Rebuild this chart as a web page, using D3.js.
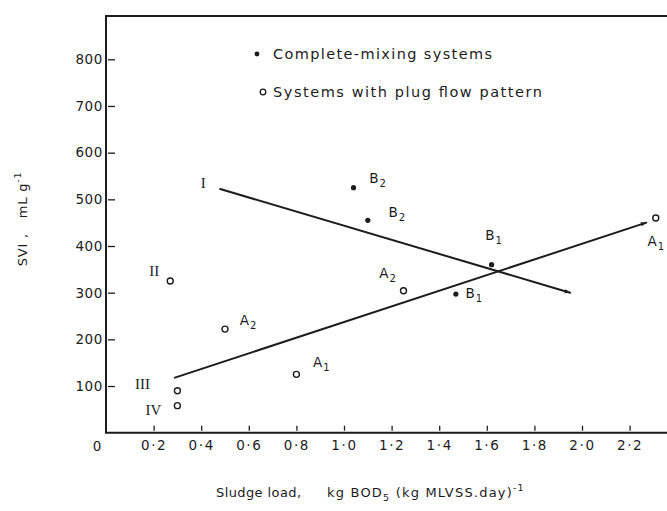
<!DOCTYPE html>
<html>
<head>
<meta charset="utf-8">
<script src="https://cdn.jsdelivr.net/npm/d3@7"></script>
<style>
  body { margin: 0; background: #fff; }
  svg { display: block; font-family: "DejaVu Sans", sans-serif; }
  .pre { white-space: pre; }
</style>
</head>
<body>
<svg id="chart" width="667" height="511"></svg>
<script>
// Axis ticks
const xTicks = [0.2, 0.4, 0.6, 0.8, 1.0, 1.2, 1.4, 1.6, 1.8, 2.0, 2.2];
const xTickLabels = ["0·2", "0·4", "0·6", "0·8", "1·0", "1·2", "1·4", "1·6", "1·8", "2·0", "2·2"];
const yTicks = [100, 200, 300, 400, 500, 600, 700, 800];
const yTickLabels = ["100", "200", "300", "400", "500", "600", "700", "800"];

// Complete-mixing systems (filled dots)
const mixLoad = [1.04, 1.10, 1.62, 1.47];
const mixSVI = [525, 455, 360, 297];
const mixNames = ["B", "B", "B", "B"];
const mixSubs = ["2", "2", "1", "1"];

// Systems with plug flow pattern (open circles)
const plugLoad = [0.27, 0.50, 0.80, 1.25, 0.30, 0.30, 2.31];
const plugSVI = [325, 222, 125, 304, 90, 58, 460];
const plugNames = ["II", "A", "A", "A", "III", "IV", "A"];
const plugSubs = ["", "2", "1", "2", "", "", "1"];

// Trend lines I and III
const trendILoad = [0.48, 1.95];
const trendISVI = [522, 300];
const trendIIILoad = [0.29, 2.27];
const trendIIISVI = [118, 450];

// Label placement (pixel offsets of each label's centre/baseline from its mark)
const mixOffsets = [[24, -5], [29, -3], [2, -25], [18, 4]];
const plugOffsets = [[-16, -5], [23, -4], [25, -7], [-16, -13], [-35, -2], [-24, 9], [0, 28]];

const ink = "#1c1c1c";
const svg = d3.select("#chart");

const x = d3.scaleLinear().domain([0, 2.2]).range([106, 629.6]);
const y = d3.scaleLinear().domain([0, 800]).range([432.7, 59.3]);

// Frame (runs off the right edge)
svg.append("path")
  .attr("d", `M700,16 H${x(0)} V${y(0)} H700`)
  .attr("fill", "none").attr("stroke", ink).attr("stroke-width", 2);

// Bottom axis: short inward ticks
const xAxis = svg.append("g")
  .attr("transform", `translate(0,${y(0)})`)
  .call(d3.axisBottom(x).tickValues(xTicks)
    .tickFormat((d, i) => xTickLabels[i])
    .tickSizeInner(-6).tickSizeOuter(0).tickPadding(8));
xAxis.select(".domain").remove();
xAxis.selectAll(".tick line").attr("y1", -2).attr("y2", -7)
  .attr("stroke", ink).attr("stroke-width", 1.3);
xAxis.selectAll(".tick text")
  .attr("font-family", "DejaVu Sans").attr("font-size", 13.5)
  .attr("letter-spacing", 1.6).attr("fill", ink);

// Left axis: short inward ticks
const yAxis = svg.append("g")
  .attr("transform", `translate(${x(0)},0)`)
  .call(d3.axisLeft(y).tickValues(yTicks)
    .tickFormat((d, i) => yTickLabels[i])
    .tickSizeInner(-9).tickSizeOuter(0).tickPadding(3));
yAxis.select(".domain").remove();
yAxis.selectAll(".tick line").attr("x1", 2).attr("x2", 9)
  .attr("stroke", ink).attr("stroke-width", 1.3);
yAxis.selectAll(".tick text")
  .attr("font-family", "DejaVu Sans").attr("font-size", 13.5)
  .attr("letter-spacing", 0.6).attr("fill", ink);

// Origin label
svg.append("text")
  .attr("x", x(0) - 9).attr("y", y(0) + 18)
  .attr("text-anchor", "middle").attr("font-size", 13.5).attr("fill", ink)
  .text("0");

// Arrowhead
svg.append("defs").append("marker")
  .attr("id", "arrow").attr("viewBox", "0 0 10 10")
  .attr("refX", 9).attr("refY", 5)
  .attr("markerWidth", 7).attr("markerHeight", 6)
  .attr("markerUnits", "userSpaceOnUse")
  .attr("orient", "auto")
  .append("path").attr("d", "M0,1.5 L10,5 L0,8.5 Z").attr("fill", ink);

const line = d3.line().x(d => x(d[0])).y(d => y(d[1]));
[[trendILoad, trendISVI], [trendIIILoad, trendIIISVI]].forEach(([lx, ly]) => {
  svg.append("path")
    .datum(lx.map((v, i) => [v, ly[i]]))
    .attr("d", line)
    .attr("fill", "none").attr("stroke", ink).attr("stroke-width", 2)
    .attr("stroke-linecap", "round")
    .attr("marker-end", "url(#arrow)");
});

// Trend line name
svg.append("text")
  .attr("x", x(trendILoad[0]) - 17).attr("y", y(trendISVI[0]) - 1)
  .attr("text-anchor", "middle")
  .attr("font-family", "Liberation Serif").attr("font-size", 15).attr("fill", ink)
  .text("I");

// Complete-mixing points
svg.append("g").selectAll("circle")
  .data(mixLoad).join("circle")
  .attr("cx", d => x(d)).attr("cy", (d, i) => y(mixSVI[i]))
  .attr("r", 2.6).attr("fill", ink);

// Plug-flow points
svg.append("g").selectAll("circle")
  .data(plugLoad).join("circle")
  .attr("cx", d => x(d)).attr("cy", (d, i) => y(plugSVI[i]))
  .attr("r", 3).attr("fill", "#fff").attr("stroke", ink).attr("stroke-width", 1.4);

// Point labels with subscripts
function pointLabel(px, py, name, sub, off) {
  const roman = sub === "";
  const t = svg.append("text")
    .attr("x", px + off[0]).attr("y", py + off[1])
    .attr("text-anchor", "middle").attr("fill", ink)
    .attr("font-family", roman ? "Liberation Serif" : "DejaVu Sans")
    .attr("font-size", roman ? 15 : 13.5);
  t.append("tspan").text(name);
  if (!roman) {
    t.append("tspan").attr("dx", 1).attr("dy", 4).attr("font-size", 10).text(sub);
  }
}
mixLoad.forEach((v, i) => pointLabel(x(v), y(mixSVI[i]), mixNames[i], mixSubs[i], mixOffsets[i]));
plugLoad.forEach((v, i) => pointLabel(x(v), y(plugSVI[i]), plugNames[i], plugSubs[i], plugOffsets[i]));

// Legend
const legend = svg.append("g");
legend.append("circle").attr("cx", 257).attr("cy", 54).attr("r", 2.4).attr("fill", ink);
legend.append("text").attr("x", 273).attr("y", 59)
  .attr("font-size", 14.5).attr("fill", ink)
  .attr("textLength", 219).attr("lengthAdjust", "spacing")
  .text("Complete-mixing systems");
legend.append("circle").attr("cx", 263).attr("cy", 92).attr("r", 2.8)
  .attr("fill", "#fff").attr("stroke", ink).attr("stroke-width", 1.3);
legend.append("text").attr("x", 273).attr("y", 97)
  .attr("font-size", 14.5).attr("fill", ink)
  .attr("textLength", 269).attr("lengthAdjust", "spacing")
  .text("Systems with plug flow pattern");

// Axis titles
const xt = svg.append("text").attr("y", 497).attr("font-size", 13).attr("fill", ink);
xt.append("tspan").attr("x", 216).attr("letter-spacing", 0.4).text("Sludge load,");
const unit = xt.append("tspan").attr("x", 327).attr("letter-spacing", 1.2);
unit.append("tspan").text("kg BOD");
unit.append("tspan").attr("dy", 4).attr("font-size", 9.5).text("5");
unit.append("tspan").attr("dy", -4).text(" (kg MLVSS.day)");
unit.append("tspan").attr("dy", -6).attr("font-size", 9.5).text("-1");

const yt = svg.append("text")
  .attr("class", "pre")
  .attr("transform", "translate(27,219) rotate(-90)")
  .attr("text-anchor", "middle").attr("font-size", 13).attr("letter-spacing", 0.8)
  .attr("fill", ink);
yt.append("tspan").text("SVI ,   mL g");
yt.append("tspan").attr("dy", -6).attr("font-size", 9.5).text("-1");
</script>
</body>
</html>
